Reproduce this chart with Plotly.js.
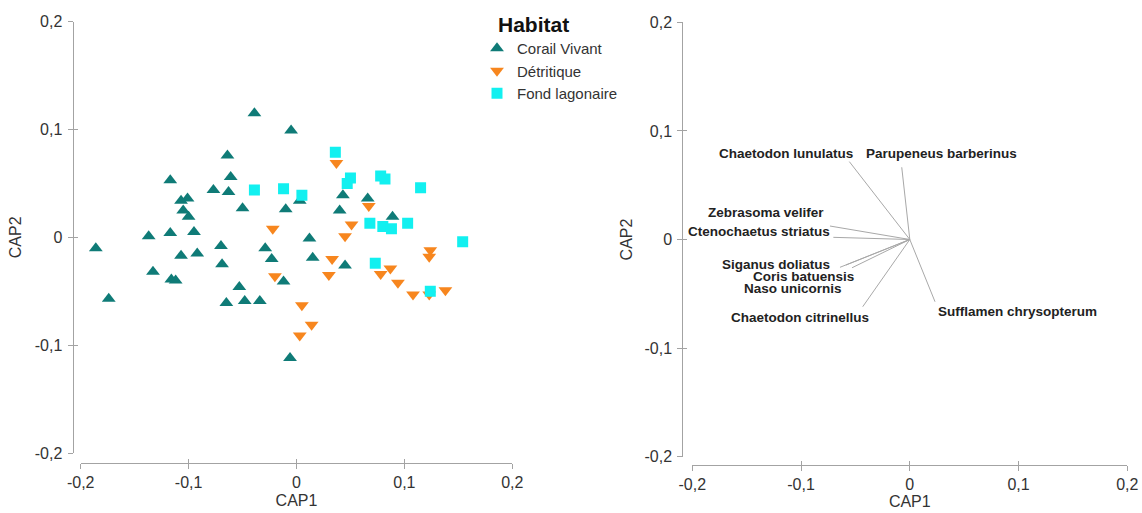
<!DOCTYPE html>
<html>
<head>
<meta charset="utf-8">
<script src="https://cdn.plot.ly/plotly-3.0.1.min.js"></script>
<style>html,body{margin:0;padding:0;background:#fff;}#chart{width:1142px;height:513px;}</style>
</head>
<body>
<div id="chart"></div>
<script>
// ---- Data ----
const corailX = [-0.186,-0.174,-0.137,-0.133,-0.117,-0.116,-0.112,-0.107,-0.105,-0.101,-0.107,-0.100,-0.095,-0.092,-0.117,-0.077,-0.070,-0.069,-0.064,-0.061,-0.063,-0.050,-0.053,-0.065,-0.048,-0.034,-0.039,-0.005,-0.029,-0.023,-0.010,-0.012,0.003,-0.006,0.012,0.015,0.040,0.043,0.066,0.089,0.045];
const corailY = [-0.010,-0.057,0.001,-0.032,0.053,-0.039,-0.040,-0.017,0.025,0.036,0.034,0.019,0.005,-0.015,0.004,0.044,-0.008,-0.025,0.076,0.056,0.042,0.027,-0.046,-0.061,-0.059,-0.059,0.115,0.099,-0.010,-0.020,0.026,-0.041,0.034,-0.112,-0.001,-0.019,0.025,0.039,0.036,0.019,-0.026];
const detritiqueX = [-0.022,-0.020,0.037,0.067,0.051,0.045,0.124,0.123,0.033,0.030,0.087,0.078,0.094,0.108,0.123,0.138,0.005,0.014,0.003];
const detritiqueY = [0.008,-0.036,0.069,0.029,0.012,0.001,-0.012,-0.018,-0.020,-0.035,-0.029,-0.034,-0.042,-0.053,-0.053,-0.049,-0.063,-0.081,-0.091];
const fondX = [-0.039,-0.012,0.005,0.036,0.050,0.047,0.078,0.082,0.115,0.068,0.080,0.088,0.103,0.154,0.073,0.124];
const fondY = [0.044,0.045,0.039,0.079,0.055,0.050,0.057,0.054,0.046,0.013,0.010,0.008,0.013,-0.004,-0.024,-0.050];

const species = ["Chaetodon lunulatus","Parupeneus barberinus","Zebrasoma velifer","Ctenochaetus striatus","Siganus doliatus","Coris batuensis","Naso unicornis","Chaetodon citrinellus","Sufflamen chrysopterum"];
const vecX = [-0.0556,-0.0074,-0.0734,-0.0703,-0.0642,-0.0587,-0.0531,-0.0433,0.0232];
const vecY = [0.0717,0.0665,0.0124,0.0020,-0.0256,-0.0235,-0.0260,-0.0619,-0.0573];
const labelX = [-0.1143,0.0294,-0.1318,-0.1391,-0.1232,-0.0977,-0.1074,-0.1010,0.0988];
const labelY = [0.0794,0.0788,0.0247,0.0078,-0.0228,-0.0340,-0.0455,-0.0717,-0.0665];

const habitats = ["Corail Vivant","Détritique","Fond lagonaire"];
const tickVals = [-0.2,-0.1,0,0.1,0.2];
const tickText = ["-0,2","-0,1","0","0,1","0,2"];
const axisRange = [-0.2,0.2];

// ---- Styling ----
const W = 1142, H = 513;
const FONT = "Liberation Sans, Arial, sans-serif";
const AXC = "#a3a3a3";
const TXT = "#333333";
const colors = ["#0f7b77","#f7861e","#12f0f0"];
const symbols = ["triangle-up","triangle-down","square"];
const sizes = [12,12,11];
const px = v => v / W;
const py = v => 1 - v / H;

const seriesX = [corailX, detritiqueX, fondX];
const seriesY = [corailY, detritiqueY, fondY];

const traces = habitats.map((h, i) => ({
  type: "scatter", mode: "markers", name: h,
  x: seriesX[i], y: seriesY[i], xaxis: "x", yaxis: "y",
  marker: {symbol: symbols[i], color: colors[i], size: sizes[i], line: {width: 0}},
  hoverinfo: "x+y+name"
}));

const lx = [], ly = [];
vecX.forEach((v, i) => { lx.push(0, v, null); ly.push(0, vecY[i], null); });
traces.push({
  type: "scatter", mode: "lines", x: lx, y: ly, xaxis: "x2", yaxis: "y2",
  line: {color: "#a8a8a8", width: 1}, showlegend: false, hoverinfo: "skip"
});
// helper traces for inner tick halves
traces.push({type:"scatter", x:[null], y:[null], xaxis:"x3", yaxis:"y3", showlegend:false, hoverinfo:"skip"});
traces.push({type:"scatter", x:[null], y:[null], xaxis:"x4", yaxis:"y4", showlegend:false, hoverinfo:"skip"});

function baseAxis(domain, anchorPos, extra) {
  return Object.assign({
    domain: domain, range: axisRange, anchor: "free", position: anchorPos,
    showgrid: false, zeroline: false, showline: true, linecolor: AXC, linewidth: 1,
    ticks: "outside", ticklen: 5, tickwidth: 1, tickcolor: AXC,
    tickmode: "array", tickvals: tickVals, ticktext: tickText,
    tickfont: {family: FONT, size: 16, color: TXT}, fixedrange: true
  }, extra || {});
}
function innerAxis(over, domain, anchorPos) {
  return {
    overlaying: over, domain: domain, range: axisRange, anchor: "free", position: anchorPos,
    showgrid: false, zeroline: false, showline: false,
    ticks: "inside", ticklen: 4, tickwidth: 1, tickcolor: AXC,
    tickmode: "array", tickvals: tickVals, showticklabels: false, fixedrange: true
  };
}

const xd1 = [px(80.7), px(512.3)], yd1 = [py(453), py(21.7)];
const xd2 = [px(692.3), px(1127.3)], yd2 = [py(456.7), py(22.3)];
const xp1 = py(462.5), yp1 = px(72.5);
const xp2 = py(464.5), yp2 = px(682.3);

const titleFont = {family: FONT, size: 16, color: TXT};

const annotations = species.map((s, i) => ({
  text: s, x: labelX[i], y: labelY[i], xref: "x2", yref: "y2",
  showarrow: false, xanchor: "center", yanchor: "middle",
  font: {family: FONT, size: 13.5, color: "#222222", weight: "bold"}
}));
annotations.push({
  text: "Habitat", xref: "paper", yref: "paper", x: px(496), y: py(24.5),
  xanchor: "left", yanchor: "middle", showarrow: false,
  font: {family: FONT, size: 21, color: "#111111", weight: "bold"}
});

const layout = {
  width: W, height: H,
  margin: {l: 0, r: 0, t: 0, b: 0, pad: 0},
  paper_bgcolor: "#ffffff", plot_bgcolor: "#ffffff",
  font: {family: FONT, color: TXT},
  showlegend: true,
  legend: {
    x: px(477), y: py(32), xanchor: "left", yanchor: "top",
    font: {family: FONT, size: 15, color: TXT}, bgcolor: "rgba(0,0,0,0)",
    borderwidth: 0, tracegroupgap: 0, itemclick: false, itemdoubleclick: false
  },
  xaxis: baseAxis(xd1, xp1, {title: {text: "CAP1", font: titleFont, standoff: 5}}),
  yaxis: baseAxis(yd1, yp1, {title: {text: "CAP2", font: titleFont, standoff: 8}, ticklabelstandoff: 2}),
  xaxis2: baseAxis(xd2, xp2, {title: {text: "CAP1", font: titleFont, standoff: 3}}),
  yaxis2: baseAxis(yd2, yp2, {title: {text: "CAP2", font: titleFont, standoff: 6}, ticklabelstandoff: 2}),
  xaxis3: innerAxis("x", xd1, xp1),
  yaxis3: innerAxis("y", yd1, yp1),
  xaxis4: innerAxis("x2", xd2, xp2),
  yaxis4: innerAxis("y2", yd2, yp2),
  annotations: annotations
};

Plotly.newPlot("chart", traces, layout, {staticPlot: true, displayModeBar: false});
</script>
</body>
</html>
